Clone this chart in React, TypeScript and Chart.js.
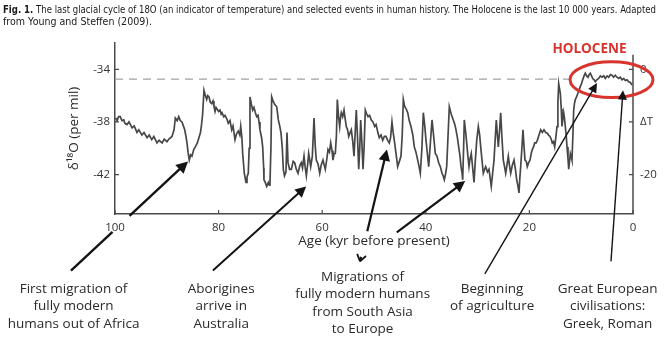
import React, { useEffect, useRef } from 'react';
import { Chart, registerables } from 'chart.js';

Chart.register(...registerables);

// ---------- data ----------
const ageKyr = [
  99.9, 99.6, 99.3, 99.0, 98.65, 98.3, 98.1, 97.7, 97.3, 96.7, 96.3, 95.75, 95.4, 94.8, 94.4, 93.8, 93.4, 92.9, 92.5, 91.9,
  91.5, 90.9, 90.5, 89.96, 89.6, 89.0, 88.6, 88.36, 88.0, 87.7, 87.4, 87.07, 86.8, 86.54, 86.3, 86.1, 85.9, 85.66, 85.4, 85.14,
  84.8, 84.5, 84.1, 83.73, 83.5, 83.34, 83.1, 82.82, 82.55, 82.3, 82.1, 81.85, 81.6, 81.33, 81.08, 80.9, 80.69, 80.5, 80.31, 80.0,
  79.73, 79.5, 79.34, 79.0, 78.76, 78.38, 78.13, 77.8, 77.47, 77.22, 77.0, 76.83, 76.54, 76.2, 75.9, 75.73, 75.5, 75.35, 75.04, 74.71,
  74.52, 74.27, 74.1, 73.94, 73.7, 73.42, 73.17, 72.9, 72.64, 72.39, 72.2, 72.01, 71.7, 71.49, 71.3, 71.24, 71.0, 70.71, 70.4, 70.2,
  70.08, 69.9, 69.75, 69.5, 69.11, 68.78, 68.6, 68.47, 68.2, 67.95, 67.7, 67.51, 67.28, 66.99, 66.8, 66.6, 66.3, 65.96, 65.6, 65.31,
  65.0, 64.67, 64.3, 64.03, 63.8, 63.51, 63.3, 63.06, 62.8, 62.61, 62.4, 62.22, 61.9, 61.58, 61.35, 61.14, 60.8, 60.48, 60.2, 59.85,
  59.6, 59.4, 59.1, 58.88, 58.6, 58.36, 58.1, 57.92, 57.7, 57.47, 57.25, 57.08, 56.85, 56.62, 56.45, 56.31, 56.05, 55.79, 55.55, 55.35,
  55.1, 54.88, 54.6, 54.38, 54.1, 53.86, 53.65, 53.42, 53.2, 52.95, 52.75, 52.57, 52.35, 52.12, 51.9, 51.68, 51.4, 51.16, 50.85, 50.52,
  50.2, 49.86, 49.6, 49.23, 48.98, 48.65, 48.32, 48.0, 47.68, 47.35, 47.05, 46.8, 46.53, 46.3, 46.08, 45.75, 45.43, 45.1, 44.79, 44.55,
  44.34, 44.1, 43.8, 43.49, 43.2, 42.86, 42.5, 42.22, 41.9, 41.56, 41.3, 41.06, 40.75, 40.48, 40.2, 39.96, 39.7, 39.44, 39.1, 38.8,
  38.5, 38.17, 37.85, 37.51, 37.2, 36.87, 36.65, 36.43, 36.2, 35.97, 35.7, 35.46, 35.1, 34.69, 34.4, 34.17, 33.9, 33.65, 33.4, 33.2,
  33.0, 32.88, 32.7, 32.57, 32.3, 32.1, 31.9, 31.66, 31.45, 31.22, 30.95, 30.69, 30.45, 30.17, 29.86, 29.6, 29.4, 29.15, 28.9, 28.65,
  28.44, 28.1, 27.8, 27.6, 27.36, 27.1, 26.83, 26.6, 26.39, 26.2, 26.0, 25.75, 25.54, 25.3, 25.04, 24.8, 24.58, 24.3, 24.07, 23.85,
  23.61, 23.3, 22.97, 22.7, 22.45, 22.2, 22.01, 21.85, 21.68, 21.45, 21.24, 21.05, 20.85, 20.6, 20.41, 20.15, 19.88, 19.65, 19.44, 19.2,
  18.98, 18.7, 18.47, 18.15, 17.82, 17.5, 17.18, 16.85, 16.54, 16.3, 16.02, 15.8, 15.58, 15.35, 15.12, 14.9, 14.67, 14.5, 14.34, 14.18,
  14.03, 13.85, 13.71, 13.55, 13.38, 13.2, 13.07, 12.9, 12.74, 12.55, 12.41, 12.25, 12.1, 11.95, 11.78, 11.6, 11.45, 11.3, 11.14, 10.9,
  10.62, 10.4, 10.17, 9.95, 9.71, 9.45, 9.21, 8.95, 8.69, 8.45, 8.24, 8.0, 7.78, 7.5, 7.28, 7.0, 6.62, 6.3, 5.98, 5.65,
  5.35, 5.0, 4.69, 4.35, 4.05, 3.75, 3.42, 3.1, 2.76, 2.45, 2.12, 1.8, 1.49, 1.15, 0.83, 0.5, 0.19,
];

const d18O = [
  -37.7, -37.9, -37.6, -37.6, -37.9, -37.85, -38.1, -38.2, -38.0, -38.45, -38.3, -38.8, -38.6, -39.0, -38.8, -39.2, -39.0, -39.35, -39.1, -39.6,
  -39.4, -39.6, -39.3, -39.5, -39.3, -39.1, -38.6, -37.7, -37.9, -37.6, -37.9, -38.0, -38.3, -38.6, -39.1, -39.6, -40.3, -40.9, -40.5, -40.6,
  -40.1, -39.9, -39.6, -39.1, -38.8, -38.35, -37.5, -35.6, -36.0, -36.3, -36.0, -36.1, -36.5, -36.6, -36.4, -36.8, -37.2, -36.9, -36.9, -37.2,
  -37.1, -37.4, -37.3, -37.6, -37.5, -37.8, -38.1, -37.9, -38.6, -38.3, -38.9, -39.35, -38.9, -38.7, -39.0, -38.35, -39.2, -40.4, -41.9, -42.6,
  -42.2, -41.9, -40.0, -36.1, -36.6, -37.1, -36.9, -37.3, -37.6, -37.5, -38.0, -38.6, -39.2, -39.9, -41.5, -42.4, -42.6, -42.9, -42.6, -42.8,
  -42.6, -40.0, -36.1, -36.4, -36.7, -36.85, -37.4, -37.85, -38.3, -38.85, -40.0, -41.6, -42.1, -41.8, -38.8, -41.1, -41.6, -41.6, -41.0, -41.1,
  -41.6, -41.9, -41.3, -41.1, -41.5, -40.6, -41.4, -42.1, -41.2, -40.4, -40.9, -41.4, -40.6, -37.7, -39.8, -40.9, -41.2, -41.9, -41.3, -40.9,
  -41.3, -41.6, -40.8, -40.1, -40.3, -39.6, -40.2, -40.9, -40.4, -40.4, -39.0, -36.3, -37.6, -38.35, -37.6, -37.3, -37.6, -37.1, -37.8, -38.35,
  -38.6, -39.1, -38.8, -38.6, -39.5, -40.6, -39.0, -37.1, -39.0, -41.6, -40.0, -37.85, -39.5, -41.6, -39.8, -37.1, -37.4, -37.6, -37.5, -37.85,
  -38.0, -38.35, -38.2, -38.85, -39.2, -39.0, -39.4, -39.1, -39.1, -39.4, -39.6, -39.2, -38.0, -38.8, -39.4, -40.4, -41.4, -41.0, -40.6, -39.0,
  -36.3, -36.8, -37.0, -37.3, -37.9, -38.35, -39.0, -39.9, -40.3, -40.9, -41.4, -41.9, -40.0, -37.3, -38.3, -39.4, -40.4, -41.4, -39.5, -37.85,
  -39.0, -40.4, -40.6, -41.1, -41.4, -41.9, -42.1, -42.4, -42.0, -41.4, -39.0, -36.85, -37.4, -37.85, -38.2, -38.6, -39.2, -39.9, -40.6, -41.4,
  -41.9, -42.4, -40.0, -37.85, -38.8, -39.6, -40.5, -41.4, -40.8, -40.4, -41.5, -42.6, -41.0, -39.4, -38.35, -39.0, -39.9, -40.9, -41.9, -41.6,
  -41.4, -41.8, -41.6, -42.2, -42.9, -41.9, -40.9, -39.3, -37.85, -38.9, -39.9, -38.6, -37.3, -39.2, -40.9, -41.4, -41.9, -41.2, -40.6, -41.3,
  -41.9, -41.3, -40.9, -41.6, -42.4, -42.9, -43.4, -42.3, -41.4, -40.0, -38.6, -39.8, -40.9, -41.0, -41.4, -41.1, -40.9, -40.4, -40.1, -39.9,
  -39.6, -39.6, -39.4, -39.0, -38.6, -38.8, -38.6, -38.8, -38.85, -39.0, -39.1, -39.3, -39.6, -39.5, -39.9, -39.2, -38.35, -36.5, -35.1, -35.5,
  -35.8, -37.0, -38.35, -37.8, -37.3, -37.8, -38.35, -39.0, -39.9, -40.8, -41.6, -41.0, -40.4, -40.6, -40.9, -39.0, -37.1, -36.6, -36.3, -36.1,
  -35.8, -35.6, -35.3, -35.1, -34.8, -34.5, -34.3, -34.5, -34.6, -34.4, -34.3, -34.5, -34.7, -34.8, -34.95, -34.8, -34.7, -34.5, -34.6, -34.5,
  -34.7, -34.5, -34.6, -34.4, -34.45, -34.6, -34.45, -34.6, -34.7, -34.6, -34.8, -34.7, -34.85, -34.8, -34.95, -35.0, -35.2,
];

const xTicks = [100, 80, 60, 40, 20, 0];
const yTicks = [-42, -38, -34];
const rightTickLabels = ['-20', 'ΔT', '0'];
const modernLevel = -34.75;
const dashedSpan = [100, 12.3];

const captionBold = 'Fig. 1.';
const captionRest =
  ' The last glacial cycle of 18O (an indicator of temperature) and selected events in human history. The Holocene is the last 10 000 years. Adapted';
const captionLine2 = 'from Young and Steffen (2009).';

const eventTexts = [
  ['First migration of', 'fully modern', 'humans out of Africa'],
  ['Aborigines', 'arrive in', 'Australia'],
  ['Migrations of', 'fully modern humans', 'from South Asia', 'to Europe'],
  ['Beginning', 'of agriculture'],
  ['Great European', 'civilisations:', 'Greek, Roman'],
];

// ---------- annotation layout ----------
const eventAnchors = [
  { age: 108.0, dy: 75 },
  { age: 79.5, dy: 75 },
  { age: 52.2, dy: 63 },
  { age: 27.2, dy: 75 },
  { age: 4.9, dy: 75 },
];
const arrows = [
  { from: [108.5, -49.3], to: [85.9, -41.0], w: 2.4, gap: [0.355, 0.5], tailHead: false },
  { from: [81.1, -49.3], to: [63.1, -42.9], w: 2.0, gap: null, tailHead: false },
  { from: [52.7, -48.6], to: [47.5, -40.1], w: 2.2, gap: [0.04, 0.27], tailHead: true },
  { from: [45.6, -46.4], to: [32.4, -42.5], w: 2.2, gap: null, tailHead: false },
  { from: [28.6, -49.55], to: [6.95, -35.05], w: 1.4, gap: null, tailHead: false },
  { from: [4.25, -48.6], to: [1.93, -35.6], w: 1.4, gap: null, tailHead: false },
];
const holoceneEllipse = { age: 4.15, value: -34.79, rAge: 8.0, rValue: 1.36 };
const holoceneLabel = { text: 'HOLOCENE', age: 8.4, value: -32.75 };
const rightAxisTop = -32.9;

const FONT = '"Open Sans", "Noto Sans", sans-serif';

function drawArrow(
  ctx: CanvasRenderingContext2D,
  x0: number, y0: number, x1: number, y1: number,
  w: number, gap: number[] | null, tailHead: boolean,
) {
  const dx = x1 - x0, dy = y1 - y0;
  const len = Math.hypot(dx, dy);
  const ux = dx / len, uy = dy / len;
  const headL = 6 + w * 2.4, headW = 2.5 + w * 1.5;
  const tEnd = 1 - (headL * 0.85) / len;
  const segs = gap ? [[0, gap[0]], [gap[1], tEnd]] : [[0, tEnd]];
  ctx.save();
  ctx.strokeStyle = '#141414';
  ctx.fillStyle = '#141414';
  ctx.lineWidth = w;
  ctx.lineCap = 'butt';
  for (const [a, b] of segs) {
    ctx.beginPath();
    ctx.moveTo(x0 + dx * a, y0 + dy * a);
    ctx.lineTo(x0 + dx * b, y0 + dy * b);
    ctx.stroke();
  }
  const bx = x1 - ux * headL, by = y1 - uy * headL;
  ctx.beginPath();
  ctx.moveTo(x1, y1);
  ctx.lineTo(bx - uy * headW, by + ux * headW);
  ctx.lineTo(bx + uy * headW, by - ux * headW);
  ctx.closePath();
  ctx.fill();
  if (tailHead) {
    const L = 8, th = 0.6;
    ctx.lineWidth = 1.8;
    ctx.beginPath();
    for (const s of [th, -th]) {
      const c = Math.cos(s), sn = Math.sin(s);
      ctx.moveTo(x0, y0);
      ctx.lineTo(x0 + L * (ux * c - uy * sn), y0 + L * (uy * c + ux * sn));
    }
    ctx.stroke();
  }
  ctx.restore();
}

const annotationPlugin = {
  id: 'annotationsCustom',
  afterDraw(chart: any) {
    const { ctx, chartArea } = chart;
    const xs = chart.scales.x;
    const ys = chart.scales.y;
    const X = (v: number) => xs.getPixelForValue(v);
    const Y = (v: number) => ys.getPixelForValue(v);

    ctx.save();
    // right axis line + inward tick marks
    ctx.strokeStyle = '#4a4a4a';
    ctx.lineWidth = 1.5;
    ctx.beginPath();
    ctx.moveTo(chartArea.right, Y(rightAxisTop));
    ctx.lineTo(chartArea.right, chartArea.bottom);
    ctx.stroke();
    ctx.lineWidth = 1.2;
    ctx.beginPath();
    for (const t of xTicks) {
      const px = X(t);
      ctx.moveTo(px, chartArea.bottom);
      ctx.lineTo(px, chartArea.bottom - 4);
    }
    for (const t of yTicks) {
      const py = Y(t);
      ctx.moveTo(chartArea.left, py);
      ctx.lineTo(chartArea.left + 4, py);
      ctx.moveTo(chartArea.right, py);
      ctx.lineTo(chartArea.right - 4, py);
    }
    ctx.stroke();

    // Holocene ellipse
    const cx = X(holoceneEllipse.age), cy = Y(holoceneEllipse.value);
    const rx = Math.abs(X(holoceneEllipse.age - holoceneEllipse.rAge) - cx);
    const ry = Math.abs(Y(holoceneEllipse.value + holoceneEllipse.rValue) - cy);
    ctx.strokeStyle = '#d8332d';
    ctx.lineWidth = 3;
    ctx.beginPath();
    ctx.ellipse(cx, cy, rx, ry, 0, 0, Math.PI * 2);
    ctx.stroke();

    ctx.fillStyle = '#d8332d';
    ctx.font = `bold 13.5px ${FONT}`;
    ctx.textAlign = 'center';
    ctx.textBaseline = 'alphabetic';
    ctx.fillText(holoceneLabel.text, X(holoceneLabel.age), Y(holoceneLabel.value));

    // arrows
    for (const a of arrows) {
      drawArrow(ctx, X(a.from[0]), Y(a.from[1]), X(a.to[0]), Y(a.to[1]), a.w, a.gap, a.tailHead);
    }

    // event labels
    ctx.fillStyle = '#2a2a2a';
    ctx.font = `13.5px ${FONT}`;
    ctx.textAlign = 'center';
    ctx.textBaseline = 'middle';
    eventTexts.forEach((lines, i) => {
      const anc = eventAnchors[i];
      lines.forEach((ln, j) => {
        ctx.fillText(ln, X(anc.age), chartArea.bottom + anc.dy + j * 17.4);
      });
    });

    // caption (fitted to the reference line widths)
    ctx.fillStyle = '#1a1a1a';
    ctx.textAlign = 'left';
    ctx.textBaseline = 'alphabetic';
    const cf = '10px "DejaVu Sans", Verdana, sans-serif';
    ctx.font = 'bold ' + cf;
    const wb = ctx.measureText(captionBold).width;
    ctx.font = cf;
    const wr = ctx.measureText(captionRest).width;
    const w2 = ctx.measureText(captionLine2).width;
    const sx = 653 / (wb + wr);
    ctx.save();
    ctx.translate(3, 12.5);
    ctx.scale(sx, 1);
    ctx.font = 'bold ' + cf;
    ctx.fillText(captionBold, 0, 0);
    ctx.font = cf;
    ctx.fillText(captionRest, wb, 0);
    ctx.restore();
    ctx.save();
    ctx.translate(3, 24.5);
    ctx.scale(149 / w2, 1);
    ctx.font = cf;
    ctx.fillText(captionLine2, 0, 0);
    ctx.restore();

    ctx.restore();
  },
};

export default function App() {
  const ref = useRef<HTMLCanvasElement>(null);
  useEffect(() => {
    if (!ref.current) return;
    const seriesPoints = ageKyr.map((a, i) => ({ x: a, y: d18O[i] }));
    const chart = new Chart(ref.current, {
      type: 'line',
      data: {
        datasets: [
          {
            data: seriesPoints,
            borderColor: '#474747',
            borderWidth: 1.7,
            pointRadius: 0,
            tension: 0,
            fill: false,
            yAxisID: 'y',
          },
          {
            data: [
              { x: dashedSpan[0], y: modernLevel },
              { x: dashedSpan[1], y: modernLevel },
            ],
            borderColor: '#a3a3a3',
            borderWidth: 1.3,
            borderDash: [8, 6],
            pointRadius: 0,
            fill: false,
            yAxisID: 'y',
          },
        ],
      },
      options: {
        animation: false,
        responsive: false,
        devicePixelRatio: 1,
        events: [],
        layout: { padding: { left: 0, right: 0, top: 43, bottom: 0 } },
        plugins: {
          legend: { display: false },
          tooltip: { enabled: false },
          title: { display: false },
        },
        scales: {
          x: {
            type: 'linear',
            position: 'bottom',
            reverse: true,
            min: 0,
            max: 100,
            afterBuildTicks: (s: any) => {
              s.ticks = xTicks.map((v) => ({ value: v }));
            },
            afterFit: (s: any) => {
              s.height = 142;
            },
            grid: { display: false, drawTicks: false },
            border: { display: true, color: '#4a4a4a', width: 1.5 },
            ticks: {
              padding: 7,
              color: '#333',
              font: { family: FONT, size: 11.5 },
              maxRotation: 0,
              autoSkip: false,
            },
            title: {
              display: true,
              text: 'Age (kyr before present)',
              color: '#2a2a2a',
              font: { family: FONT, size: 13.5 },
              padding: { top: 0, bottom: 107 },
            },
          },
          y: {
            type: 'linear',
            position: 'left',
            min: -45,
            max: -32,
            afterBuildTicks: (s: any) => {
              s.ticks = yTicks.map((v) => ({ value: v }));
            },
            afterFit: (s: any) => {
              s.width = 115;
            },
            grid: { display: false, drawTicks: false },
            border: { display: true, color: '#4a4a4a', width: 1.5 },
            ticks: { padding: 5, color: '#333', font: { family: FONT, size: 11.5 } },
            title: {
              display: true,
              text: 'δ¹⁸O (per mil)',
              color: '#2a2a2a',
              font: { family: FONT, size: 13.5 },
              padding: { top: 66, bottom: 0 },
            },
          },
          y2: {
            type: 'linear',
            position: 'right',
            min: -45,
            max: -32,
            afterBuildTicks: (s: any) => {
              s.ticks = yTicks.map((v) => ({ value: v }));
            },
            afterFit: (s: any) => {
              s.width = 37;
            },
            grid: { display: false, drawTicks: false },
            border: { display: false },
            ticks: {
              padding: 7,
              color: '#333',
              font: { family: FONT, size: 11.5 },
              callback: (v: any) => rightTickLabels[yTicks.indexOf(Number(v))],
            },
          },
        },
      } as any,
      plugins: [annotationPlugin],
    });
    return () => chart.destroy();
  }, []);

  return (
    <div style={{ position: 'fixed', left: 0, top: 0, width: 670, height: 356, background: '#fff' }}>
      <canvas ref={ref} width={670} height={356} style={{ display: 'block' }} />
    </div>
  );
}
